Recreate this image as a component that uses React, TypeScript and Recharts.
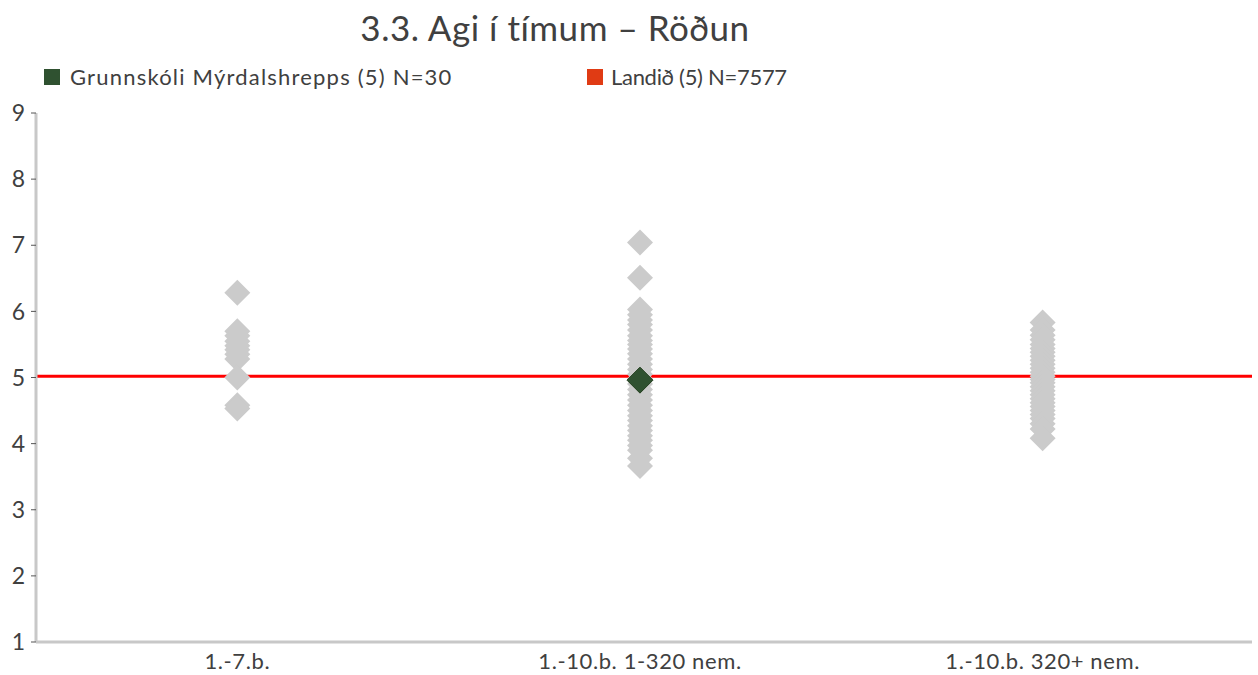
import React from "react";
import { ScatterChart, Scatter, XAxis, YAxis, ReferenceLine } from "recharts";

const categories = ["1.-7.b.", "1.-10.b. 1-320 nem.", "1.-10.b. 320+ nem."];
const yTicks = [1, 2, 3, 4, 5, 6, 7, 8, 9];

// skólar á landinu, eftir flokkum
const schools17 = [6.28, 5.7, 5.63, 5.55, 5.48, 5.42, 5.35, 5.28, 5.0, 4.58, 4.53];
const schools110small = [
  7.04, 6.51, 6.03, 5.95, 5.87, 5.8, 5.72, 5.63, 5.56, 5.5, 5.43, 5.36, 5.28, 5.2, 5.12,
  5.05, 4.98, 4.9, 4.82, 4.74, 4.66, 4.58, 4.5, 4.42, 4.35, 4.27, 4.2, 4.12, 4.05, 3.97,
  3.9, 3.78, 3.66,
];
const schools110large = [
  5.83, 5.72, 5.64, 5.57, 5.5, 5.44, 5.38, 5.32, 5.26, 5.2, 5.14, 5.08, 5.02, 4.97, 4.92,
  4.86, 4.8, 4.74, 4.68, 4.62, 4.56, 4.5, 4.44, 4.38, 4.3, 4.22, 4.08,
];
const ownCategory = 1;
const ownValue = 4.96;
const countryAvg = 5.02;

const font = "Lato, 'Open Sans', sans-serif";

const otherPoints = [schools17, schools110small, schools110large].flatMap((vals, i) =>
  vals.map((v) => ({ x: i + 0.5, y: v }))
);
const ownPoints = [{ x: ownCategory + 0.5, y: ownValue }];

const Diamond = (props: any) => {
  const { cx, cy, fill, stroke } = props;
  const r = 13;
  return (
    <polygon
      points={`${cx},${cy - r} ${cx + r},${cy} ${cx},${cy + r} ${cx - r},${cy}`}
      fill={fill}
      stroke={stroke}
      strokeWidth={1}
    />
  );
};

export default function App() {
  return (
    <div style={{ position: "absolute", left: 0, top: 0, width: 1258, height: 675, background: "#fff", fontFamily: font }}>
      <div
        style={{
          position: "absolute",
          left: 0,
          width: 1110,
          top: 6,
          textAlign: "center",
          fontSize: 35,
          color: "#404040",
          letterSpacing: 0.5,
        }}
      >
        3.3. Agi í tímum – Röðun
      </div>
      <div style={{ position: "absolute", left: 44, top: 63, display: "flex", alignItems: "center", fontSize: 22, color: "#404040", letterSpacing: 1.2 }}>
        <span style={{ width: 16, height: 16, background: "#2f5130", marginRight: 10, display: "inline-block" }} />
        Grunnskóli Mýrdalshrepps (5) N=30
      </div>
      <div style={{ position: "absolute", left: 587, top: 63, display: "flex", alignItems: "center", fontSize: 22, color: "#404040", letterSpacing: -0.3 }}>
        <span style={{ width: 16, height: 16, background: "#e03b14", marginRight: 8, display: "inline-block" }} />
        Landið (5) N=7577
      </div>
      <div style={{ position: "absolute", left: 0, top: 0 }}>
        <ScatterChart width={1258} height={675} margin={{ top: 113, right: 6, bottom: 3, left: 0 }}>
          <XAxis
            type="number"
            dataKey="x"
            domain={[0, 3.02]}
            ticks={[0.5, 1.5, 2.5]}
            tickFormatter={(v) => categories[Math.floor(v)]}
            tickLine={false}
            tickMargin={5}
            height={30}
            axisLine={{ stroke: "#c8c8c8", strokeWidth: 3 }}
            tick={{ fontSize: 22, fill: "#404040", fontFamily: font, letterSpacing: 0.6 }}
            allowDataOverflow
          />
          <YAxis
            type="number"
            dataKey="y"
            domain={[1, 9]}
            ticks={yTicks}
            width={36}
            tickSize={5}
            tickMargin={6}
            tickLine={{ stroke: "#555" }}
            axisLine={{ stroke: "#c8c8c8", strokeWidth: 3 }}
            tick={{ fontSize: 23, fill: "#404040", fontFamily: font }}
            allowDataOverflow
          />
          <Scatter data={otherPoints} fill="#cbcbcb" shape={Diamond} isAnimationActive={false} />
          <ReferenceLine y={countryAvg} stroke="#ff0000" strokeWidth={3} ifOverflow="extendDomain" />
          <Scatter data={ownPoints} fill="#2f5130" stroke="#24401f" shape={Diamond} isAnimationActive={false} />
        </ScatterChart>
      </div>
    </div>
  );
}
